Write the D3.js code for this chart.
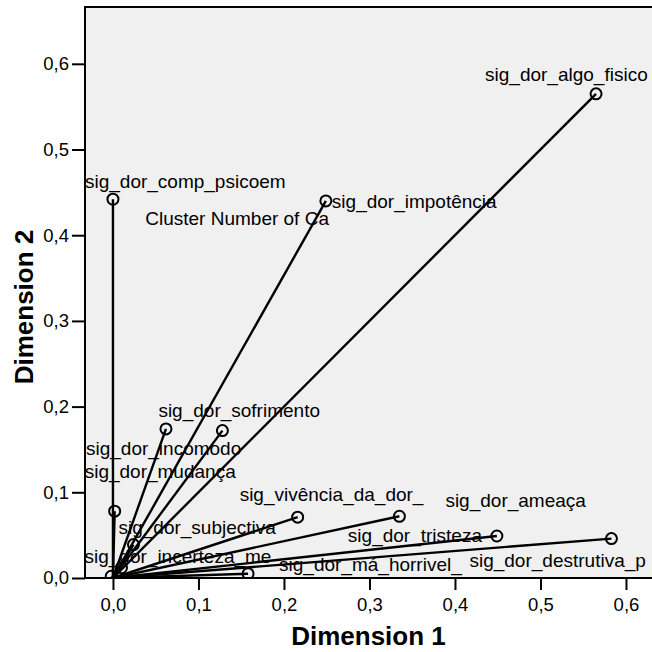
<!DOCTYPE html>
<html>
<head>
<meta charset="utf-8">
<script src="https://cdn.jsdelivr.net/npm/d3@7"></script>
<style>
  html, body { margin: 0; padding: 0; background: #ffffff; }
  svg { display: block; }
  text { font-family: "Liberation Sans", Arial, sans-serif; fill: #000; }
</style>
</head>
<body>
<svg id="chart" width="652" height="652"></svg>
<script>
// Category labels and their coordinates on the two dimensions
const categories = [
  "sig_dor_algo_fisico",
  "sig_dor_comp_psicoem",
  "sig_dor_impotência",
  "Cluster Number of Ca",
  "sig_dor_sofrimento",
  "sig_dor_incomodo",
  "sig_dor_mudança",
  "sig_vivência_da_dor_",
  "sig_dor_ameaça",
  "sig_dor_tristeza",
  "sig_dor_destrutiva_p",
  "sig_dor_má_horrivel_",
  "sig_dor_subjectiva",
  "sig_dor_incerteza_me"
];
const dimension1 = [0.565, 0.000, 0.249, -0.002, 0.128, 0.062, 0.002, 0.216, 0.335, 0.449, 0.583, 0.158, 0.024, 0.010];
const dimension2 = [0.565, 0.442, 0.440, 0.002, 0.172, 0.174, 0.078, 0.071, 0.072, 0.049, 0.046, 0.005, 0.039, 0.012];

const xTicks = [0, 0.1, 0.2, 0.3, 0.4, 0.5, 0.6];
const yTicks = [0, 0.1, 0.2, 0.3, 0.4, 0.5, 0.6];
const xTitle = "Dimension 1";
const yTitle = "Dimension 2";

// Label placement: offset (px) of each label's left baseline from its point
const labelOffsets = [
  [-111, -13], [-28, -11], [6, 7], [34, -351], [-64, -14], [-80, 26],
  [-30, -33], [-58, -16], [46, -9], [-149, 6], [-142, 28], [31, -3],
  [-15, -11], [-37, -5]
];

const svg = d3.select("#chart");
const plot = { left: 85, right: 653, top: 7, bottom: 578 };

const x = d3.scaleLinear().domain([-0.0327, 0.6316]).range([plot.left, plot.right]);
const y = d3.scaleLinear().domain([0, 0.6663]).range([plot.bottom, plot.top]);

const locale = d3.formatLocale({ decimal: ",", thousands: ".", grouping: [3], currency: ["", ""] });
const fmt = locale.format(".1f");

// Plot background
svg.append("rect")
  .attr("x", plot.left).attr("y", plot.top)
  .attr("width", plot.right - plot.left).attr("height", plot.bottom - plot.top)
  .attr("fill", "#f0f0f0");

svg.append("clipPath").attr("id", "plotClip")
  .append("rect")
  .attr("x", plot.left).attr("y", plot.top)
  .attr("width", plot.right - plot.left).attr("height", plot.bottom - plot.top);

// Axes
const xAxis = svg.append("g")
  .attr("transform", `translate(0,${plot.bottom})`)
  .call(d3.axisBottom(x).tickValues(xTicks).tickFormat(fmt).tickSize(12).tickPadding(8));
const yAxis = svg.append("g")
  .attr("transform", `translate(${plot.left},0)`)
  .call(d3.axisLeft(y).tickValues(yTicks).tickFormat(fmt).tickSize(13).tickPadding(3));

[xAxis, yAxis].forEach(g => {
  g.select(".domain").remove();
  g.selectAll(".tick line").attr("stroke", "#000").attr("stroke-width", 2);
  g.selectAll(".tick text")
    .style("font-family", "'Liberation Sans', Arial, sans-serif")
    .style("font-size", "18.5px")
    .attr("fill", "#000");
});

// Vectors from the origin and the point markers
const rows = categories.map((c, i) => ({ name: c, d1: dimension1[i], d2: dimension2[i], off: labelOffsets[i] }));
const marks = svg.append("g").attr("clip-path", "url(#plotClip)");

marks.selectAll("line.vec").data(rows).join("line")
  .attr("class", "vec")
  .attr("x1", x(0)).attr("y1", y(0))
  .attr("x2", d => x(d.d1)).attr("y2", d => y(d.d2))
  .attr("stroke", "#000").attr("stroke-width", 2.4);

marks.selectAll("circle.pt").data(rows).join("circle")
  .attr("class", "pt")
  .attr("cx", d => x(d.d1)).attr("cy", d => y(d.d2))
  .attr("r", 5.5)
  .attr("fill", "none").attr("stroke", "#000").attr("stroke-width", 2);

marks.selectAll("text.lbl").data(rows).join("text")
  .attr("class", "lbl")
  .attr("x", d => x(d.d1) + d.off[0])
  .attr("y", d => y(d.d2) + d.off[1])
  .style("font-size", "19px")
  .text(d => d.name);

// Plot frame
svg.append("rect")
  .attr("x", plot.left).attr("y", plot.top)
  .attr("width", plot.right - plot.left).attr("height", plot.bottom - plot.top)
  .attr("fill", "none").attr("stroke", "#000").attr("stroke-width", 2);

// Axis titles
svg.append("text")
  .attr("x", (plot.left + 652) / 2).attr("y", 645)
  .attr("text-anchor", "middle")
  .style("font-size", "26px").style("font-weight", "bold")
  .text(xTitle);

svg.append("text")
  .attr("transform", "translate(33,307) rotate(-90)")
  .attr("text-anchor", "middle")
  .style("font-size", "26px").style("font-weight", "bold")
  .text(yTitle);
</script>
</body>
</html>
